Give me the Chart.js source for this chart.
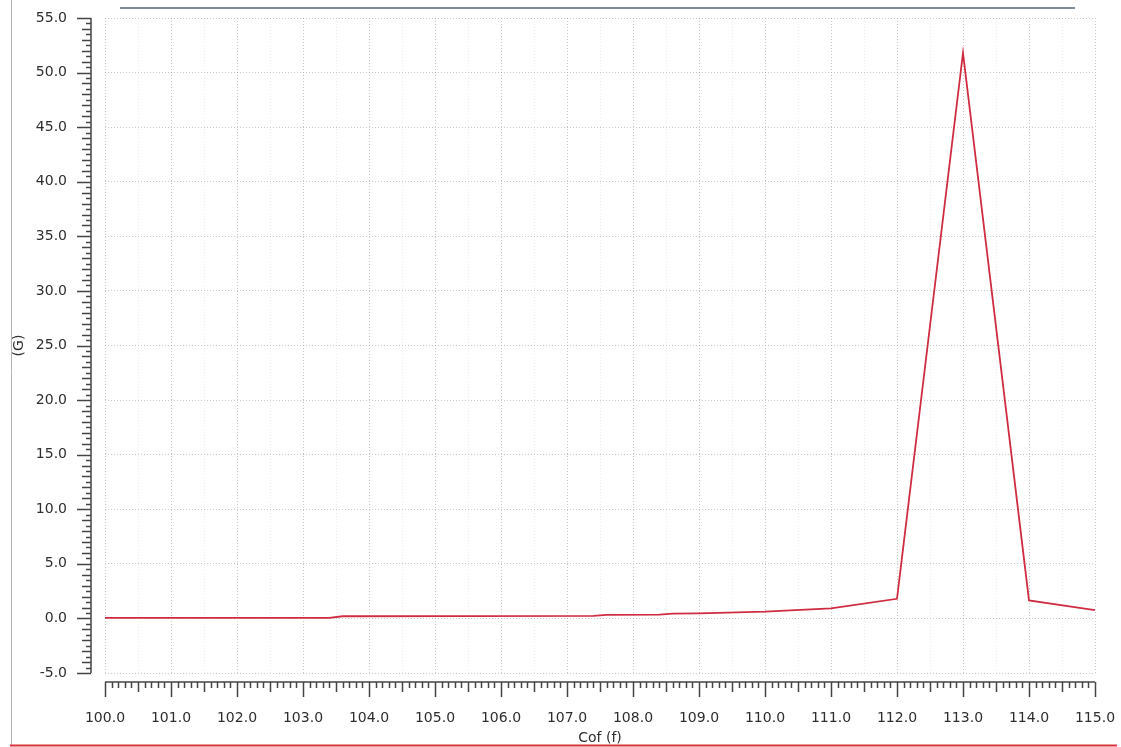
<!DOCTYPE html>
<html>
<head>
<meta charset="utf-8">
<script src="https://cdn.jsdelivr.net/npm/chart.js@4/dist/chart.umd.min.js"></script>
<style>
	html, body { margin: 0; padding: 0; background: #fff; }
	canvas { display: block; }
</style>
</head>
<body>
<canvas id="chart" width="1121" height="747"></canvas>
<script>
'use strict';

// values
var cofValues = [100, 103.4, 103.6, 107.4, 107.6, 108.4, 108.6, 109, 110, 111, 112, 113, 114, 115];
var gValues = [0.05, 0.05, 0.2, 0.23, 0.32, 0.35, 0.44, 0.46, 0.62, 0.92, 1.8, 51.8, 1.65, 0.75];
var xRange = [100, 115];
var yRange = [-5, 55];
var xTitle = 'Cof (f)';
var yTitle = '(G)';

var tickFont = { family: 'DejaVu Sans', size: 14 },
	tickColor = '#2e2e2e',
	axisColor = '#444';

/**
 * Builds tick objects between min and max with the given step.
 */
var makeTicks = function (min, max, step) {
	var ticks = [],
		n = Math.round((max - min) / step),
		i;
	for (i = 0; i <= n; i++) {
		ticks.push({ value: +(min + i * step).toFixed(3) });
	}
	return ticks;
};

var isWhole = function (v) {
	return Math.abs(v - Math.round(v)) < 1e-6;
};

// label overflow padding would shrink the plot area, drop it
var noPadding = function (scale) {
	scale.paddingTop = 0;
	scale.paddingBottom = 0;
	scale.paddingLeft = 0;
	scale.paddingRight = 0;
};

// Axis rulers sit a little apart from the plot area, like the original tool
var rulerPlugin = {
	id: 'ruler',
	beforeDraw: function (chart) {
		var ctx = chart.ctx;
		ctx.save();
		ctx.fillStyle = '#fff';
		ctx.fillRect(0, 0, chart.width, chart.height);
		ctx.restore();
	},
	afterDraw: function (chart) {
		var ctx = chart.ctx,
			xs = chart.scales.x,
			ys = chart.scales.y,
			area = chart.chartArea,
			axisX = area.left - 14,
			axisY = area.bottom + 9,
			v, p, len, i;

		ctx.save();
		ctx.strokeStyle = axisColor;
		ctx.lineWidth = 1.5;

		// y ruler
		ctx.beginPath();
		ctx.moveTo(axisX, ys.getPixelForValue(yRange[1]));
		ctx.lineTo(axisX, ys.getPixelForValue(yRange[0]));
		for (i = 0; i <= (yRange[1] - yRange[0]) * 2; i++) {
			v = yRange[0] + i * 0.5;
			p = Math.round(ys.getPixelForValue(v)) + 0.5;
			len = v % 5 === 0 ? 14 : (isWhole(v) ? 9 : 5);
			ctx.moveTo(axisX, p);
			ctx.lineTo(axisX - len, p);
		}
		ctx.stroke();

		// x ruler
		ctx.beginPath();
		ctx.moveTo(xs.getPixelForValue(xRange[0]), axisY);
		ctx.lineTo(xs.getPixelForValue(xRange[1]), axisY);
		for (i = 0; i <= (xRange[1] - xRange[0]) * 10; i++) {
			v = +(xRange[0] + i * 0.1).toFixed(2);
			p = Math.round(xs.getPixelForValue(v)) + 0.5;
			len = isWhole(v) ? 15 : (isWhole(v * 2) ? 10 : 6);
			ctx.moveTo(p, axisY);
			ctx.lineTo(p, axisY + len);
		}
		ctx.stroke();

		// frame decorations from the surrounding window
		ctx.lineWidth = 1;
		ctx.strokeStyle = '#b4b4b4';
		ctx.beginPath();
		ctx.moveTo(11.5, 0);
		ctx.lineTo(11.5, 745);
		ctx.stroke();

		ctx.lineWidth = 2;
		ctx.strokeStyle = '#7d8c99';
		ctx.beginPath();
		ctx.moveTo(120, 8);
		ctx.lineTo(1075, 8);
		ctx.stroke();

		ctx.strokeStyle = '#d8323a';
		ctx.beginPath();
		ctx.moveTo(10, 745.5);
		ctx.lineTo(1117, 745.5);
		ctx.stroke();
		ctx.restore();
	}
};

var points = cofValues.map(function (x, i) {
	return { x: x, y: gValues[i] };
});

var gridColor = function (ctx) {
	if (ctx.tick && !isWhole(ctx.tick.value)) {
		return 'rgba(210,210,210,0.4)';
	}
	return 'rgba(165,165,165,0.6)';
};

new Chart(document.getElementById('chart'), {
	type: 'line',
	data: {
		datasets: [{
			data: points,
			borderColor: '#cf2c42',
			borderWidth: 1.8,
			pointRadius: 0,
			tension: 0,
			fill: false
		}]
	},
	options: {
		responsive: false,
		animation: false,
		events: [],
		layout: {
			padding: { left: 0, top: 18, right: 26, bottom: 0 }
		},
		plugins: {
			legend: { display: false },
			tooltip: { enabled: false }
		},
		scales: {
			x: {
				type: 'linear',
				min: xRange[0],
				max: xRange[1],
				afterBuildTicks: function (scale) {
					scale.ticks = makeTicks(xRange[0], xRange[1], 0.5);
				},
				afterFit: function (scale) {
					scale.height = 74;
					noPadding(scale);
				},
				ticks: {
					autoSkip: false,
					maxRotation: 0,
					padding: 37,
					color: tickColor,
					font: tickFont,
					callback: function (value) {
						return isWhole(value) ? value.toFixed(1) : '';
					}
				},
				grid: {
					drawTicks: false,
					color: gridColor,
					lineWidth: 1
				},
				border: { display: false, dash: [1, 2] },
				title: {
					display: true,
					text: xTitle,
					color: tickColor,
					font: { family: 'DejaVu Sans', size: 14 },
					padding: { top: 0, bottom: 0 }
				}
			},
			y: {
				type: 'linear',
				min: yRange[0],
				max: yRange[1],
				afterBuildTicks: function (scale) {
					scale.ticks = makeTicks(yRange[0], yRange[1], 5);
				},
				afterFit: function (scale) {
					scale.width = 105;
					noPadding(scale);
				},
				ticks: {
					autoSkip: false,
					padding: 38,
					color: tickColor,
					font: tickFont,
					callback: function (value) {
						return value.toFixed(1);
					}
				},
				grid: {
					drawTicks: false,
					color: gridColor,
					lineWidth: 1
				},
				border: { display: false, dash: [1, 2] },
				title: {
					display: true,
					text: yTitle,
					color: tickColor,
					font: { family: 'DejaVu Sans', size: 14 },
					padding: { top: 11, bottom: 0 }
				}
			}
		}
	},
	plugins: [rulerPlugin]
});
</script>
</body>
</html>
